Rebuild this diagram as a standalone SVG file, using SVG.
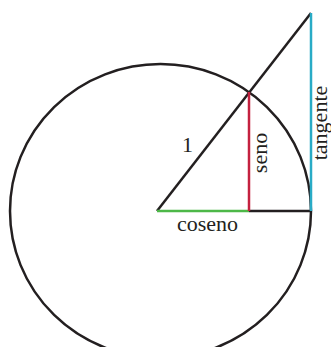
<svg xmlns="http://www.w3.org/2000/svg" width="331" height="347" viewBox="0 0 331 347">
<style>
.ln{fill:none;stroke-width:2.5;stroke-linecap:butt}
.k{stroke:#231f20}
text{font-size:22px;fill:#231f20;text-anchor:middle}
</style>
<rect width="331" height="347" fill="#fff"/>
<g id="circle"><ellipse class="ln k" cx="160.5" cy="211" rx="150.5" ry="147"/></g>
<g id="connectors">
<line class="ln k" x1="249" y1="211" x2="311" y2="211"/>
<line class="ln k" x1="157" y1="211" x2="311" y2="13"/>
<line class="ln" stroke="#4db848" x1="157" y1="211" x2="249" y2="211"/>
<line class="ln" stroke="#c4213f" x1="249" y1="92" x2="249" y2="211"/>
<line class="ln" stroke="#29abc6" x1="311" y1="13" x2="311" y2="211"/>
</g>
<g id="labels" font-family="Liberation Serif, Times New Roman, DejaVu Serif, serif">
<text x="187.5" y="152">1</text>
<text x="207.5" y="231">coseno</text>
<text transform="translate(267,153) rotate(-90)">seno</text>
<text transform="translate(326.5,123) rotate(-90)">tangente</text>
</g>
</svg>
